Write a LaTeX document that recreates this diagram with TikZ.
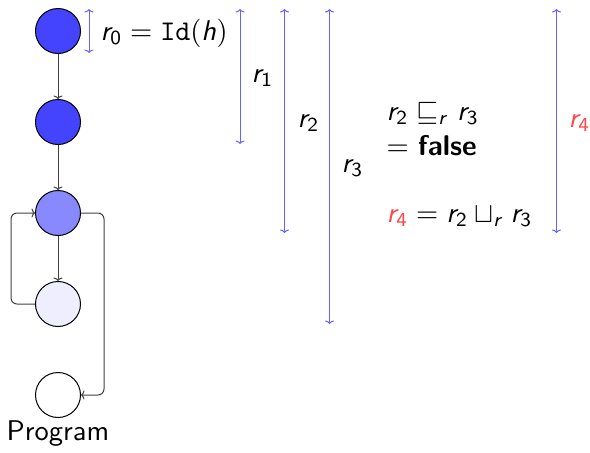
\documentclass[tikz,border=0pt]{standalone}
\usetikzlibrary{arrows.meta}
\DeclareMathAlphabet{\msl}{OT1}{cmss}{m}{sl}
\definecolor{dblue}{RGB}{68,68,255}
\definecolor{mblue}{RGB}{136,136,255}
\definecolor{lblue}{RGB}{238,238,255}
\definecolor{arrblue}{RGB}{100,100,255}
\definecolor{myred}{RGB}{255,70,70}
\newcommand{\rv}[1]{\msl{r}_{\mathsf{#1}}}
\begin{document}
\begin{tikzpicture}[x=1pt,y=-1pt,
  st/.style={circle, draw=black, line width=1pt, minimum size=45pt, inner sep=0pt},
  flow/.style={draw=black!75, line width=1pt, -{To[length=3.5pt,width=9pt]}, rounded corners=6pt},
  meas/.style={draw=arrblue, line width=1pt, {To[length=3.5pt,width=9pt]}-{To[length=3.5pt,width=9pt]}},
  lbl/.style={font=\fontsize{10}{12}\selectfont\sffamily, inner sep=0pt, scale=2.85}]
\useasboundingbox (0,0) rectangle (590,453);
\node[st, fill=dblue] (a) at (58,31) {};
\node[st, fill=dblue] (b) at (58,122) {};
\node[st, fill=mblue] (c) at (58,213) {};
\node[st, fill=lblue] (d) at (58,304) {};
\node[st, fill=white] (e) at (58,395) {};
\node[lbl, anchor=base] (prog) at (58,440) {Program};
\draw[flow] (a) -- (b);
\draw[flow] (b) -- (c);
\draw[flow] (c) -- (d);
\draw[flow] (d.west) -- ++(-24,0) |- (c.west);
\draw[flow] (c.east) -- ++(23,0) |- (e.east);
% measure arrows
\coordinate (m0t) at (89,9);    \coordinate (m0b) at (89,53);
\coordinate (m1t) at (240,9);   \coordinate (m1b) at (240,144);
\coordinate (m2t) at (284.5,9); \coordinate (m2b) at (284.5,233);
\coordinate (m3t) at (329.5,9); \coordinate (m3b) at (329.5,324);
\coordinate (m4t) at (556.5,9); \coordinate (m4b) at (556.5,233);
\draw[meas] (m0t) -- (m0b);
\draw[meas] (m1t) -- (m1b);
\draw[meas] (m2t) -- (m2b);
\draw[meas] (m3t) -- (m3b);
\draw[meas] (m4t) -- (m4b);
\node[lbl, anchor=base west] (l0) at (100,40) {$\rv{0} = \mathtt{Id}(\msl{h})$};
\node[lbl, anchor=base west] (l1) at (251,82) {$\rv{1}$};
\node[lbl, anchor=base west] (l2) at (297,127) {$\rv{2}$};
\node[lbl, anchor=base west] (l3) at (341,172) {$\rv{3}$};
\node[lbl, anchor=base west, text=myred] (l4) at (568,127) {$\rv{4}$};
\node[lbl, anchor=base west] (t1) at (386,120) {$\rv{2} \sqsubseteq_{\msl{r}} \rv{3}$};
\node[lbl, anchor=base west] (t2) at (386,155) {$=$ \textbf{false}};
\node[lbl, anchor=base west] (t3) at (386,222) {$\textcolor{myred}{\rv{4}} = \rv{2} \sqcup_{\msl{r}} \rv{3}$};
\end{tikzpicture}
\end{document}
